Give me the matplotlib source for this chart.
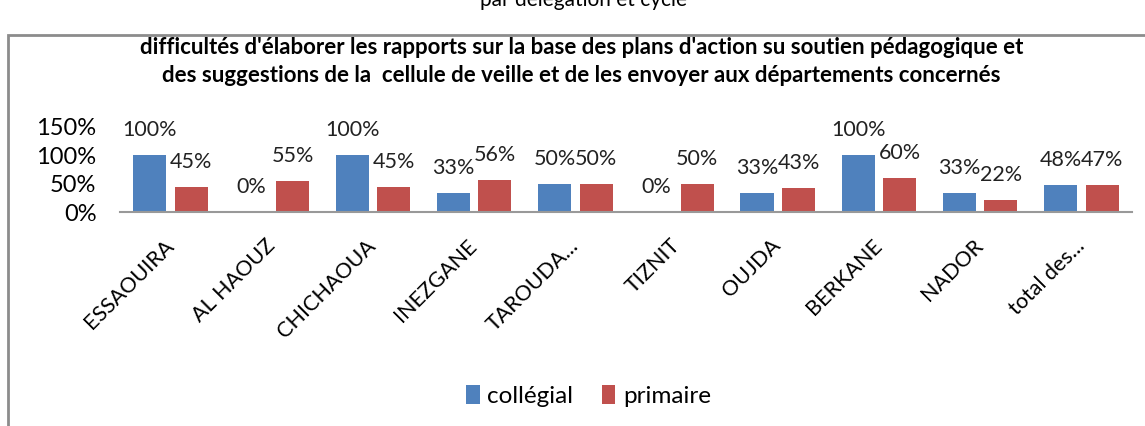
import matplotlib.pyplot as plt
from matplotlib.patches import Rectangle
import numpy as np

plt.rcParams['font.family'] = ['Lato', 'DejaVu Sans']

categories = ['ESSAOUIRA', 'AL HAOUZ', 'CHICHAOUA', 'INEZGANE', 'TAROUDA...',
              'TIZNIT', 'OUJDA', 'BERKANE', 'NADOR', 'total des...']
college = [1.00, 0.00, 1.00, 0.33, 0.50, 0.00, 0.33, 1.00, 0.33, 0.48]
primaire = [0.45, 0.55, 0.45, 0.56, 0.50, 0.50, 0.43, 0.60, 0.22, 0.47]
yticks = [0, 0.5, 1.0, 1.5]
ytick_labels = ['0%', '50%', '100%', '150%']

blue = '#4F81BD'
red = '#C0504D'

fig = plt.figure(figsize=(11.45, 4.26), dpi=100)
ax = fig.add_axes([0.1048, 0.5023, 0.8838, 0.1996])

x = np.arange(len(categories))
w = 0.327
b1 = ax.bar(x - 0.205, college, w, color=blue, label='collégial')
b2 = ax.bar(x + 0.205, primaire, w, color=red, label='primaire')

for bars, vals in ((b1, college), (b2, primaire)):
    for r, v in zip(bars, vals):
        ax.annotate(f'{round(v * 100):d}%', (r.get_x() + r.get_width() / 2, v),
                    xytext=(0, 15), textcoords='offset pixels',
                    ha='center', va='bottom', fontsize=15.5, color='#222222')

ax.set_xlim(-0.5, len(categories) - 0.5)
ax.set_ylim(0, 1.5)
ax.set_yticks(yticks)
ax.set_yticklabels(ytick_labels, fontsize=17)
ax.set_xticks(x)
ax.set_xticklabels(categories, rotation=45, ha='right', va='center',
                   rotation_mode='anchor', fontsize=15.5)
ax.tick_params(length=0)
ax.tick_params(axis='x', pad=22)
ax.tick_params(axis='y', pad=17)
for s in ['top', 'right', 'left']:
    ax.spines[s].set_visible(False)
ax.spines['bottom'].set_color('#999999')
ax.spines['bottom'].set_linewidth(1.5)

fig.text(0.508, 0.856, "difficultés d'élaborer les rapports sur la base des plans d'action su soutien pédagogique et\n"
         "des suggestions de la  cellule de veille et de les envoyer aux départements concernés",
         ha='center', va='center', fontsize=16, fontweight='bold', linespacing=1.45)
fig.text(0.51, 1.0, 'par délégation et cycle', ha='center', va='center', fontsize=15)

fig.patches.append(Rectangle((8 / 1145, -0.05), 1.1, 1.05 - 35 / 426 + 0.001,
                             transform=fig.transFigure, fill=False,
                             edgecolor='#8c8c8c', linewidth=2))

fig.legend(handles=[b1, b2], loc='center', bbox_to_anchor=(0.514, 0.07),
           ncol=2, frameon=False, fontsize=17.5, handlelength=0.55,
           handleheight=0.8, handletextpad=0.3, columnspacing=1.2)

fig.savefig('out.png')
